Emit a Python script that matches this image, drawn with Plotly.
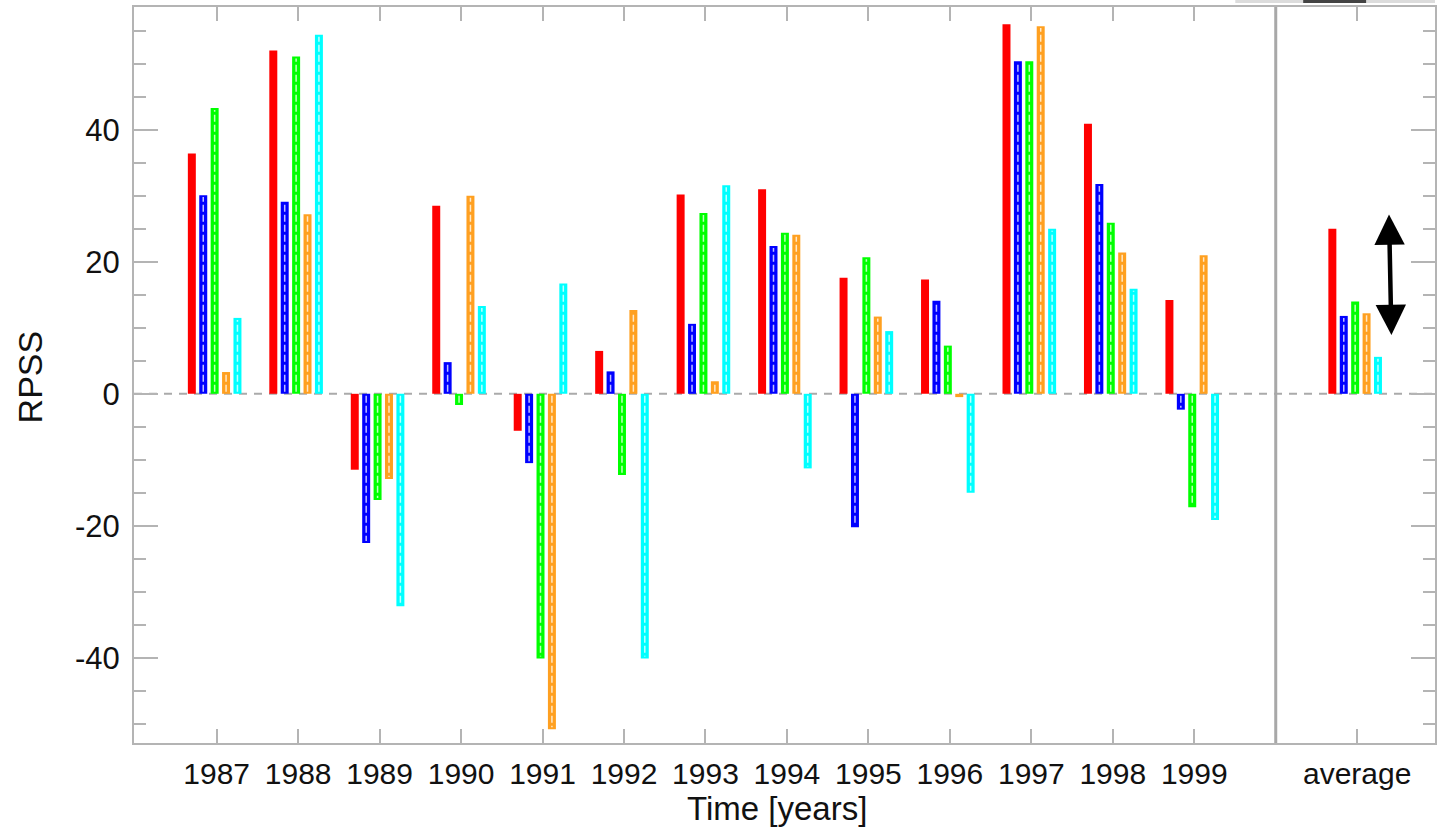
import plotly.graph_objects as go

# ---------------- data ----------------
categories = ["1987", "1988", "1989", "1990", "1991", "1992", "1993",
              "1994", "1995", "1996", "1997", "1998", "1999", "average"]
red_vals = [36.4, 52.0, -11.5, 28.5, -5.6, 6.5, 30.2, 31.0, 17.6, 17.3, 56.0, 40.9, 14.2, 25.0]
blue_vals = [30.1, 29.1, -22.6, 4.8, -10.5, 3.4, 10.6, 22.4, -20.2, 14.1, 50.4, 31.8, -2.4, 11.8]
green_vals = [43.3, 51.1, -16.1, -1.7, -40.1, -12.3, 27.4, 24.4, 20.7, 7.3, 50.4, 25.9, -17.2, 14.0]
orange_vals = [3.3, 27.2, -12.9, 30.0, -50.8, 12.7, 1.9, 24.1, 11.7, -0.5, 55.7, 21.4, 21.0, 12.2]
cyan_vals = [11.5, 54.4, -32.2, 13.3, 16.7, -40.1, 31.6, -11.3, 9.5, -15.0, 25.0, 15.9, -19.1, 5.6]
y_ticks = [-40, -20, 0, 20, 40]
arrow_range = [8.9, 27.4]

series = [
    (red_vals, "#ff0000", False),
    (blue_vals, "#0000ff", True),
    (green_vals, "#00ff00", True),
    (orange_vals, "#ffa020", True),
    (cyan_vals, "#00ffff", True),
]

# positions: years at 0..12, a gap slot (separator) then the average
n_years = len(categories) - 1
pos = list(range(n_years)) + [n_years + 1]
sep_x = n_years

step = 0.14
bar_w = 0.098
shift = -0.025

fig = go.Figure()

# zero dashed line and separator (below bars)
fig.add_shape(type="line", xref="paper", x0=0, x1=1, yref="y", y0=0, y1=0,
              line=dict(color="#aaaaaa", width=2, dash="8px,7px"), layer="below")
fig.add_shape(type="line", xref="x", x0=sep_x, x1=sep_x, yref="paper", y0=0, y1=1,
              line=dict(color="#a8a8a8", width=3), layer="below")

for k, (vals, col, dashed) in enumerate(series):
    off = (k - 2) * step + shift
    fig.add_trace(go.Bar(
        x=pos, y=vals, width=bar_w, offset=off - bar_w / 2,
        marker=dict(color=col, line=dict(width=0)),
        showlegend=False, hoverinfo="y",
    ))
    if dashed:
        xs, ys = [], []
        inset = 0.3
        for p, v in zip(pos, vals):
            if abs(v) < 0.8:
                continue
            s = 1 if v > 0 else -1
            xs += [p + off, p + off, None]
            ys += [s * inset, v - s * inset, None]
        fig.add_trace(go.Scatter(
            x=xs, y=ys, mode="lines",
            line=dict(color="rgba(255,255,255,0.75)", width=1.5, dash="7px,3px"),
            showlegend=False, hoverinfo="skip",
        ))

# double-headed arrow
fig.add_annotation(
    x=14.42, y=arrow_range[0], ax=14.39, ay=arrow_range[1],
    xref="x", yref="y", axref="x", ayref="y",
    text="", showarrow=True, arrowhead=2, startarrowhead=2,
    arrowside="end+start", arrowwidth=4.5, arrowsize=1.35, startarrowsize=1.35,
    arrowcolor="#000000", standoff=0, startstandoff=0,
)

# axis titles
fig.add_annotation(text="Time [years]", xref="paper", yref="paper",
                   x=0.494, y=-0.089, xanchor="center", yanchor="middle",
                   showarrow=False, font=dict(family="Liberation Sans", size=33, color="#111111"))
fig.add_annotation(text="RPSS", xref="paper", yref="paper",
                   x=-0.0798, y=0.497, xanchor="center", yanchor="middle", textangle=-90,
                   showarrow=False, font=dict(family="Liberation Sans", size=34, color="#111111"))

# top-right strip artifact
fig.add_shape(type="rect", xref="paper", yref="paper", x0=(1237 - 134) / 1303, x1=1.0,
              y0=1 + 4 / 736, y1=1 + 7 / 736, fillcolor="#dcdcdc", line=dict(width=0), layer="above")
fig.add_shape(type="rect", xref="paper", yref="paper", x0=(1305 - 134) / 1303, x1=(1368 - 134) / 1303,
              y0=1 + 4 / 736, y1=1 + 7 / 736, fillcolor="#444444", line=dict(width=0), layer="above")

axis_col = "#b4b4b4"
fig.update_layout(
    width=1437, height=828,
    margin=dict(l=134, r=0, t=7, b=85),
    paper_bgcolor="white", plot_bgcolor="white",
    barmode="overlay",
    font=dict(family="Liberation Sans", size=30, color="#111111"),
    xaxis=dict(
        range=[-1.015, 14.955], tickmode="array", tickvals=pos, ticktext=categories,
        showgrid=False, zeroline=False, showline=True, linecolor=axis_col, linewidth=2,
        mirror="ticks", ticks="inside", ticklen=14, tickwidth=1.5, tickcolor=axis_col,
        tickfont=dict(size=30, family="Liberation Sans", color="#111111"),
        ticklabelstandoff=3,
    ),
    yaxis=dict(
        range=[-52.9, 58.6], tickmode="array", tickvals=y_ticks,
        ticktext=[str(t) for t in y_ticks],
        showgrid=False, zeroline=False, showline=True, linecolor=axis_col, linewidth=2,
        mirror="ticks", ticks="inside", ticklen=24, tickwidth=1.5, tickcolor=axis_col,
        tickfont=dict(size=31, family="Liberation Sans", color="#111111"),
        ticklabelstandoff=6,
        minor=dict(dtick=5, tick0=0, ticks="inside", ticklen=12, tickwidth=1.5,
                   tickcolor=axis_col, showgrid=False),
    ),
)

fig.write_html("out.html")
